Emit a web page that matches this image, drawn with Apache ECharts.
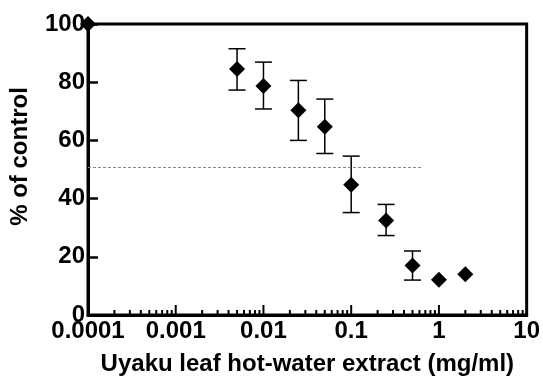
<!DOCTYPE html>
<html>
<head>
<meta charset="utf-8">
<script src="https://cdn.jsdelivr.net/npm/echarts@6/dist/echarts.min.js"></script>
<style>html,body{margin:0;padding:0;background:#fff}#c{width:543px;height:381px}</style>
</head>
<body>
<div id="c"></div>
<script>
// Data
const concentrations = [0.0001, 0.005, 0.01, 0.025, 0.05, 0.1, 0.25, 0.5, 1, 2];
const percentControl = [100, 84.5, 78.7, 70.4, 64.7, 44.8, 32.5, 17.0, 12.1, 14.0];
const errorLow  = [null, 77.3, 70.8, 60.0, 55.5, 35.2, 27.3, 12.0, null, null];
const errorHigh = [null, 91.5, 86.9, 80.6, 74.2, 54.6, 38.0, 22.0, null, null];
const xTickLabels = ['0.0001', '0.001', '0.01', '0.1', '1', '10'];
const yTickLabels = ['0', '20', '40', '60', '80', '100'];
const refLineY = [50.8];
const refLineX = [0.0001, 0.63];
const minorTickValues = [];
[0.0001, 0.001, 0.01, 0.1, 1].forEach(d => { for (let k = 2; k <= 9; k++) minorTickValues.push(d * k); });
const majorTickValues = [0.001, 0.01, 0.1, 1];

const font = '"Liberation Sans", Arial, Helvetica, sans-serif';
const chart = echarts.init(document.getElementById('c'));

const points = concentrations.map((x, i) => [x, percentControl[i]]);
const errs = concentrations.map((x, i) => [x, errorLow[i], errorHigh[i]]).filter(d => d[1] != null);

chart.setOption({
  animation: false,
  grid: { left: 86, right: 16, top: 24, bottom: 65, show: true, borderColor: '#000', borderWidth: 3 },
  xAxis: {
    type: 'log', logBase: 10, min: 0.0001, max: 10,
    axisLine: { lineStyle: { color: '#000', width: 3 } },
    axisTick: { show: false },
    splitLine: { show: false },
    axisLabel: {
      color: '#000', fontFamily: font, fontWeight: 'bold', fontSize: 24, margin: 4,
      formatter: v => xTickLabels[Math.round(Math.log10(v)) + 4]
    },
    name: 'Uyaku leaf hot-water extract (mg/ml)', nameLocation: 'middle', nameGap: 37,
    nameTextStyle: { color: '#000', fontFamily: font, fontWeight: 'bold', fontSize: 24 }
  },
  yAxis: {
    type: 'value', min: 0, max: 100, interval: 20,
    axisLine: { show: true, lineStyle: { color: '#000', width: 3 } },
    axisTick: { show: true, inside: true, length: 10, lineStyle: { color: '#000', width: 2.5 } },
    splitLine: { show: false },
    axisLabel: {
      color: '#000', fontFamily: font, fontWeight: 'bold', fontSize: 24, margin: 3,
      formatter: v => yTickLabels[Math.round(v / 20)]
    },
    name: '% of control', nameLocation: 'middle', nameGap: 56,
    nameTextStyle: { color: '#000', fontFamily: font, fontWeight: 'bold', fontSize: 24, padding: [0, 0, 0, 26] }
  },
  series: [
    {
      type: 'custom', silent: true, clip: false,
      data: minorTickValues.map(v => [v, 0]),
      renderItem: (params, api) => {
        const p = api.coord([api.value(0), 0]);
        return { type: 'line', shape: { x1: p[0], y1: p[1], x2: p[0], y2: p[1] - 5 }, style: { stroke: '#000', lineWidth: 2 } };
      }
    },
    {
      type: 'custom', silent: true, clip: false,
      data: majorTickValues.map(v => [v, 0]),
      renderItem: (params, api) => {
        const p = api.coord([api.value(0), 0]);
        return { type: 'line', shape: { x1: p[0], y1: p[1], x2: p[0], y2: p[1] - 10 }, style: { stroke: '#000', lineWidth: 2 } };
      }
    },
    {
      type: 'custom', silent: true, clip: false,
      data: errs,
      renderItem: (params, api) => {
        const lo = api.coord([api.value(0), api.value(1)]);
        const hi = api.coord([api.value(0), api.value(2)]);
        const w = 8.5;
        const st = { stroke: '#000', lineWidth: 1.5 };
        return { type: 'group', children: [
          { type: 'line', shape: { x1: lo[0], y1: lo[1], x2: hi[0], y2: hi[1] }, style: st },
          { type: 'line', shape: { x1: lo[0] - w, y1: lo[1], x2: lo[0] + w, y2: lo[1] }, style: st },
          { type: 'line', shape: { x1: hi[0] - w, y1: hi[1], x2: hi[0] + w, y2: hi[1] }, style: st }
        ]};
      }
    },
    {
      type: 'scatter', clip: false, symbol: 'diamond', symbolSize: [16, 16],
      itemStyle: { color: '#000', opacity: 1 },
      data: points,
      markLine: {
        silent: true, symbol: 'none', label: { show: false },
        lineStyle: { color: '#888', type: [3, 2], width: 1 },
        data: [[{ coord: [refLineX[0], refLineY[0]] }, { coord: [refLineX[1], refLineY[0]] }]]
      }
    }
  ]
});
</script>
</body>
</html>
